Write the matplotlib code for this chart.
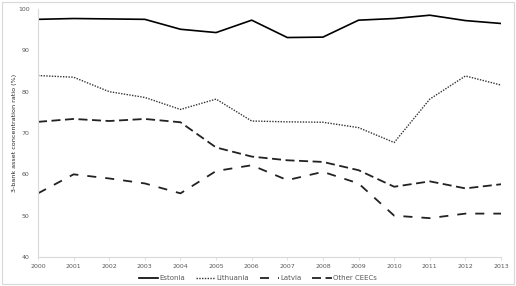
import matplotlib.pyplot as plt
from matplotlib.patches import Rectangle

years = list(range(2000, 2014))
estonia = [97.5, 97.7, 97.6, 97.5, 95.1, 94.3, 97.3, 93.1, 93.2, 97.3, 97.7, 98.5, 97.2, 96.5]
lithuania = [83.9, 83.5, 80.0, 78.6, 75.7, 78.2, 72.9, 72.7, 72.6, 71.3, 67.7, 78.2, 83.8, 81.6]
latvia = [55.4, 60.0, 59.0, 57.8, 55.4, 60.8, 62.2, 58.6, 60.6, 57.8, 50.0, 49.4, 50.5, 50.5]
other_ceecs = [72.7, 73.4, 72.9, 73.4, 72.6, 66.5, 64.3, 63.4, 63.0, 61.0, 57.0, 58.3, 56.6, 57.6]

fig = plt.figure(figsize=(5.16, 2.86), dpi=100)
ax = fig.add_axes([0.0736, 0.1014, 0.8974, 0.8671])

ax.plot(years, estonia, color='black', lw=1.2, label='Estonia')
ax.plot(years, lithuania, color='#333333', lw=1.0, linestyle=(0, (1, 1)), label='Lithuania')
ax.plot(years, latvia, color='#222222', lw=1.3, linestyle=(0, (5, 5)), label='Latvia')
ax.plot(years, other_ceecs, color='#222222', lw=1.3, linestyle=(0, (5, 2.5)), label='Other CEECs')

ax.set_xlim(2000, 2013)
ax.set_ylim(40, 100)
ax.set_xticks(years)
ax.set_yticks(range(40, 101, 10))
ax.tick_params(labelsize=4.5, colors='#595959', length=2, width=0.6)
ax.tick_params(axis='y', length=0, pad=6)
ax.tick_params(axis='x', color='#d9d9d9', pad=3)
for s in ['top', 'right']:
    ax.spines[s].set_visible(False)
for s in ['left', 'bottom']:
    ax.spines[s].set_color('#d9d9d9')
    ax.spines[s].set_linewidth(0.8)

ax.set_ylabel('3-bank asset concentration ratio (%)', fontsize=4.6, color='#262626', labelpad=1)

leg = fig.legend(loc='center', bbox_to_anchor=(0.5, 0.028), ncol=4, frameon=False,
                 fontsize=5, handlelength=2.8, columnspacing=1.5, handletextpad=0.2)
for t in leg.get_texts():
    t.set_color('#595959')

fig.patches.append(Rectangle((0.004, 0.007), 0.992, 0.986, transform=fig.transFigure,
                             fill=False, edgecolor='#d9d9d9', lw=0.8))

fig.savefig('out.png', dpi=100)
